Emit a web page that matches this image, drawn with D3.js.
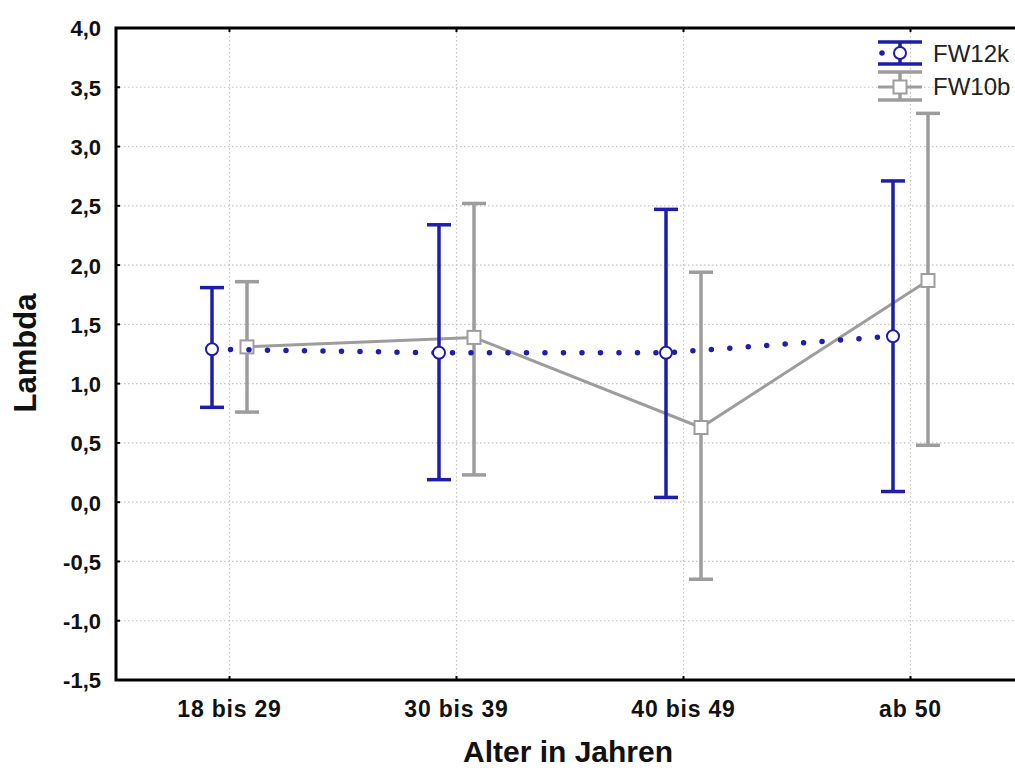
<!DOCTYPE html>
<html>
<head>
<meta charset="utf-8">
<script src="https://cdn.jsdelivr.net/npm/d3@7"></script>
<style>
  html, body { margin: 0; padding: 0; background: #fff; }
  svg { display: block; }
  text { font-family: "Liberation Sans", Arial, sans-serif; }
</style>
</head>
<body>
<svg id="chart" width="1015" height="772"></svg>
<script>
// Age groups on the x axis
const categories = ["18 bis 29", "30 bis 39", "40 bis 49", "ab 50"];

// Series FW12k: means and confidence limits
const fw12kMean  = [1.29, 1.26, 1.26, 1.40];
const fw12kLower = [0.80, 0.19, 0.04, 0.09];
const fw12kUpper = [1.81, 2.34, 2.47, 2.71];

// Series FW10b: means and confidence limits
const fw10bMean  = [1.31, 1.39, 0.63, 1.87];
const fw10bLower = [0.76, 0.23, -0.65, 0.48];
const fw10bUpper = [1.86, 2.52, 1.94, 3.28];

const yTicks = [-1.5, -1.0, -0.5, 0.0, 0.5, 1.0, 1.5, 2.0, 2.5, 3.0, 3.5, 4.0];
const seriesNames = ["FW12k", "FW10b"];

const BLUE = "#1e1eaa";
const GRAY = "#9d9d9d";
const GRID = "#c4c4c4";

const svg = d3.select("#chart");
const plotLeft = 116, plotTop = 28, plotBottom = 680, plotRight = 1024;

const x = d3.scaleBand().domain(categories).range([plotLeft, plotRight]).padding(0);
const cx = c => x(c) + x.bandwidth() / 2;
const y = d3.scaleLinear().domain([-1.5, 4]).range([plotBottom, plotTop]);
const fmt = v => d3.format(".1f")(v).replace(".", ",").replace("−", "-");

// Dotted grid
const grid = svg.append("g");
grid.selectAll("line.h").data(yTicks.filter(t => t > -1.5 && t < 4))
  .join("line").attr("class", "h")
  .attr("x1", plotLeft).attr("x2", 1015)
  .attr("y1", d => y(d)).attr("y2", d => y(d))
  .attr("stroke", GRID).attr("stroke-width", 1.2).attr("stroke-dasharray", "1.5 2.5");
grid.selectAll("line.v").data(categories)
  .join("line").attr("class", "v")
  .attr("x1", d => cx(d)).attr("x2", d => cx(d))
  .attr("y1", plotTop).attr("y2", plotBottom)
  .attr("stroke", GRID).attr("stroke-width", 1.2).attr("stroke-dasharray", "1.5 2.5");

// Axes with tick labels
const yAxis = d3.axisLeft(y).tickValues(yTicks).tickFormat(fmt).tickSize(0).tickPadding(15);
const gy = svg.append("g").attr("transform", `translate(${plotLeft},0)`).call(yAxis);
gy.select(".domain").remove();
gy.selectAll("text").attr("font-size", 22).attr("font-weight", "bold").attr("fill", "#111")
  .attr("font-family", "Liberation Sans, Arial, sans-serif").attr("dy", "0.36em");

const xAxis = d3.axisBottom(x).tickSize(0).tickPadding(21);
const gx = svg.append("g").attr("transform", `translate(0,${plotBottom})`).call(xAxis);
gx.select(".domain").remove();
gx.selectAll("text").attr("font-size", 23).attr("font-weight", "bold").attr("fill", "#111")
  .attr("letter-spacing", 0.8)
  .attr("font-family", "Liberation Sans, Arial, sans-serif");

// Small inward tick marks on the frame
const ticks = svg.append("g").attr("stroke", "#000").attr("stroke-width", 2);
ticks.selectAll("line.yt").data(yTicks).join("line")
  .attr("x1", plotLeft).attr("x2", plotLeft + 4).attr("y1", d => y(d)).attr("y2", d => y(d));
ticks.selectAll("line.xt").data(categories).join("line")
  .attr("x1", d => cx(d)).attr("x2", d => cx(d)).attr("y1", plotBottom).attr("y2", plotBottom - 4);
ticks.selectAll("line.tt").data(categories).join("line")
  .attr("x1", d => cx(d)).attr("x2", d => cx(d)).attr("y1", plotTop).attr("y2", plotTop + 4);

// Frame
svg.append("path")
  .attr("d", `M1015,${plotTop} H${plotLeft} V${plotBottom} H1015`)
  .attr("fill", "none").attr("stroke", "#000").attr("stroke-width", 3);

// Series drawing
function drawSeries(means, lower, upper, offset, color, opts) {
  const g = svg.append("g");
  const pts = categories.map((c, i) => [cx(c) + offset, y(means[i])]);
  const line = g.append("path").attr("d", d3.line()(pts)).attr("fill", "none").attr("stroke", color);
  if (opts.dotted) {
    line.attr("stroke-width", 5.5).attr("stroke-linecap", "round").attr("stroke-dasharray", "0 18.5");
  } else {
    line.attr("stroke-width", 3);
  }
  const bars = g.selectAll("g.bar").data(categories).join("g").attr("class", "bar");
  bars.append("line")
    .attr("x1", (d, i) => cx(d) + offset).attr("x2", (d, i) => cx(d) + offset)
    .attr("y1", (d, i) => y(upper[i])).attr("y2", (d, i) => y(lower[i]))
    .attr("stroke", color).attr("stroke-width", 3.5);
  [upper, lower].forEach(arr => {
    bars.append("line")
      .attr("x1", (d, i) => cx(d) + offset - 12).attr("x2", (d, i) => cx(d) + offset + 12)
      .attr("y1", (d, i) => y(arr[i])).attr("y2", (d, i) => y(arr[i]))
      .attr("stroke", color).attr("stroke-width", 3.5);
  });
  if (opts.marker === "circle") {
    bars.append("circle")
      .attr("cx", (d, i) => cx(d) + offset).attr("cy", (d, i) => y(means[i]))
      .attr("r", 6).attr("fill", "#fff").attr("stroke", color).attr("stroke-width", 2);
  } else {
    bars.append("rect")
      .attr("x", (d, i) => cx(d) + offset - 6.5).attr("y", (d, i) => y(means[i]) - 6.5)
      .attr("width", 13).attr("height", 13).attr("fill", "#fff").attr("stroke", color).attr("stroke-width", 2);
  }
}

drawSeries(fw10bMean, fw10bLower, fw10bUpper, 17.5, GRAY, { marker: "square" });
drawSeries(fw12kMean, fw12kLower, fw12kUpper, -17.5, BLUE, { marker: "circle", dotted: true });

// Legend
const legend = svg.append("g");
const lx = 900;
// FW12k entry
legend.append("line").attr("x1", lx - 22).attr("x2", lx + 22).attr("y1", 42).attr("y2", 42).attr("stroke", BLUE).attr("stroke-width", 3.5);
legend.append("line").attr("x1", lx - 22).attr("x2", lx + 22).attr("y1", 64).attr("y2", 64).attr("stroke", BLUE).attr("stroke-width", 3.5);
legend.append("line").attr("x1", lx).attr("x2", lx).attr("y1", 42).attr("y2", 64).attr("stroke", BLUE).attr("stroke-width", 3.5);
legend.append("line").attr("x1", lx - 18).attr("x2", lx + 18).attr("y1", 53).attr("y2", 53)
  .attr("stroke", BLUE).attr("stroke-width", 5.5).attr("stroke-linecap", "round").attr("stroke-dasharray", "0 36");
legend.append("circle").attr("cx", lx).attr("cy", 53).attr("r", 6).attr("fill", "#fff").attr("stroke", BLUE).attr("stroke-width", 2);
// FW10b entry
legend.append("line").attr("x1", lx - 22).attr("x2", lx + 22).attr("y1", 72).attr("y2", 72).attr("stroke", GRAY).attr("stroke-width", 3.5);
legend.append("line").attr("x1", lx - 22).attr("x2", lx + 22).attr("y1", 100).attr("y2", 100).attr("stroke", GRAY).attr("stroke-width", 3.5);
legend.append("line").attr("x1", lx).attr("x2", lx).attr("y1", 72).attr("y2", 100).attr("stroke", GRAY).attr("stroke-width", 3.5);
legend.append("line").attr("x1", lx - 22).attr("x2", lx + 22).attr("y1", 87).attr("y2", 87).attr("stroke", GRAY).attr("stroke-width", 3);
legend.append("rect").attr("x", lx - 6.5).attr("y", 80.5).attr("width", 13).attr("height", 13).attr("fill", "#fff").attr("stroke", GRAY).attr("stroke-width", 2);
legend.selectAll("text").data(seriesNames).join("text")
  .attr("x", 933).attr("y", (d, i) => 62 + i * 33)
  .attr("font-size", 24).attr("fill", "#222").text(d => d);

// Axis titles
svg.append("text").attr("x", 568).attr("y", 762).attr("text-anchor", "middle")
  .attr("font-size", 30).attr("font-weight", "bold").attr("fill", "#111").text("Alter in Jahren");
svg.append("text").attr("transform", "translate(36,353) rotate(-90)").attr("text-anchor", "middle")
  .attr("font-size", 31).attr("font-weight", "bold").attr("fill", "#111").text("Lambda");
</script>
</body>
</html>
